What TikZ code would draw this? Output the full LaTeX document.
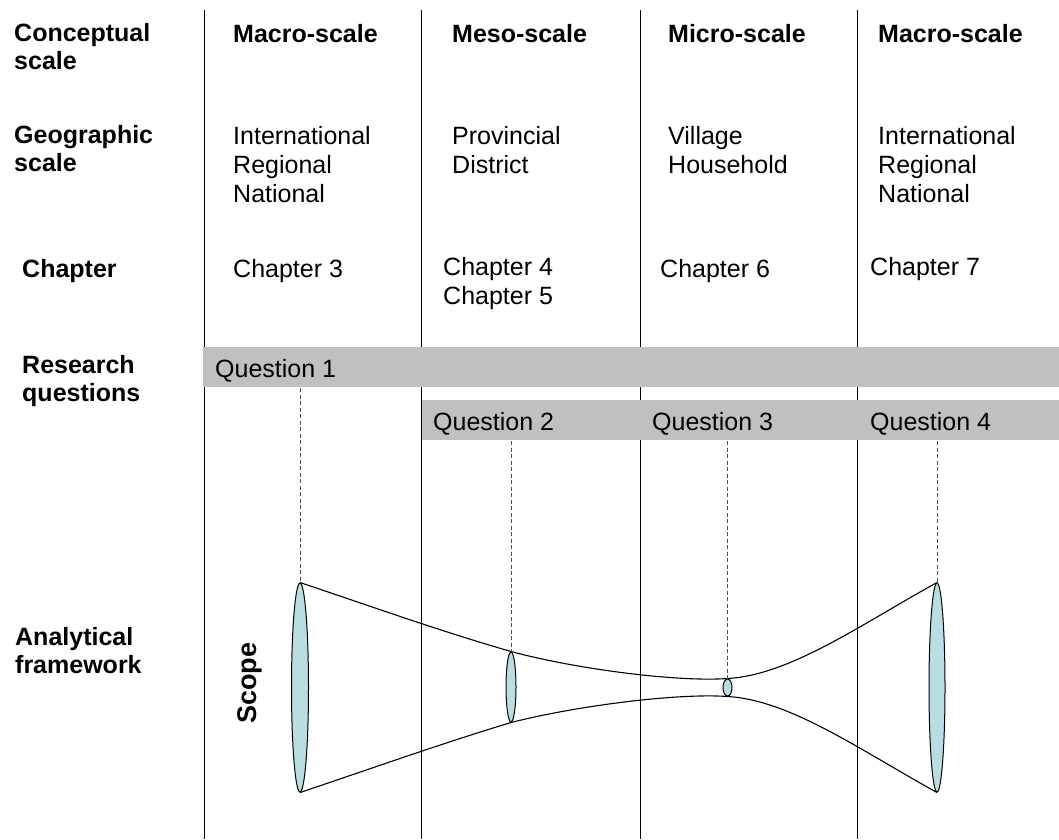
\documentclass[tikz,border=0pt]{standalone}
\usepackage{fontspec}
\setmainfont{Liberation Sans}
\usetikzlibrary{shapes.geometric}
\definecolor{bargray}{RGB}{192,192,192}
\definecolor{lensfill}{RGB}{184,222,226}
\begin{document}
\begin{tikzpicture}[x=1pt,y=-1pt,
  lbl/.style={font=\fontsize{25}{28}\selectfont\bfseries, anchor=base west, inner sep=0pt, align=left},
  txt/.style={font=\fontsize{25}{29}\selectfont, anchor=base west, inner sep=0pt, align=left},
  divider/.style={line width=1pt, black},
  bar/.style={fill=bargray},
  lensshape/.style={ellipse, draw=black, line width=1pt, fill=lensfill, inner sep=0pt},
  guide/.style={line width=1pt, black!70, dash pattern=on 4pt off 2.5pt},
  outline/.style={line width=1.1pt, black}]
\useasboundingbox (0,0) rectangle (1059,839);

% column dividers
\coordinate (topa) at (204,10); \coordinate (bota) at (204,839);
\coordinate (topb) at (421,10); \coordinate (botb) at (421,839);
\coordinate (topc) at (640,10); \coordinate (botc) at (640,839);
\coordinate (topd) at (857,10); \coordinate (botd) at (857,839);
\draw[divider] (topa) -- (bota);
\draw[divider] (topb) -- (botb);
\draw[divider] (topc) -- (botc);
\draw[divider] (topd) -- (botd);

% research question bars
\fill[bar] (203,347) rectangle (1059,387);
\fill[bar] (422,400) rectangle (1059,440);

% row labels (multi-line nodes sit on the baseline of their last line)
\node[lbl] (conc) at (14,69) {Conceptual\\scale};
\node[lbl] (geo) at (14,171) {Geographic\\scale};
\node[lbl] (chap) at (22,277) {Chapter};
\node[lbl] (rq) at (22,401) {Research\\questions};
\node[lbl] (af) at (15,673) {Analytical\\framework};

% conceptual scale
\node[lbl] (h1) at (233,42) {Macro-scale};
\node[lbl] (h2) at (452,42) {Meso-scale};
\node[lbl] (h3) at (668,42) {Micro-scale};
\node[lbl] (h4) at (878,42) {Macro-scale};

% geographic scale
\node[txt] (g1) at (233,202) {International\\Regional\\National};
\node[txt] (g2) at (452,173) {Provincial\\District};
\node[txt] (g3) at (668,173) {Village\\Household};
\node[txt] (g4) at (878,202) {International\\Regional\\National};

% chapters
\node[txt] (c1) at (233,277) {Chapter 3};
\node[txt] (c2) at (443,304) {Chapter 4\\Chapter 5};
\node[txt] (c3) at (660,277) {Chapter 6};
\node[txt] (c4) at (870,275) {Chapter 7};

% questions
\node[txt] (q1) at (215,377) {Question 1};
\node[txt] (q2) at (433,430) {Question 2};
\node[txt] (q3) at (652,430) {Question 3};
\node[txt] (q4) at (870,430) {Question 4};

% scope lenses
\node[lensshape, minimum width=17pt, minimum height=209pt] (e1) at (300,687.5) {};
\node[lensshape, minimum width=10pt, minimum height=70pt] (e2) at (511,687) {};
\node[lensshape, minimum width=9pt, minimum height=17pt] (e3) at (727.5,687.5) {};
\node[lensshape, minimum width=16pt, minimum height=209pt] (e4) at (937,687.5) {};

% envelope of the scope
\draw[outline] (e1.north) .. controls (370,606) and (440,631) .. (e2.north)
  .. controls (580,670) and (680,682) .. (e3.north)
  .. controls (790,675) and (860,625) .. (e4.north);
\draw[outline] (e1.south) .. controls (370,769) and (440,744) .. (e2.south)
  .. controls (580,705) and (680,693) .. (e3.south)
  .. controls (790,700) and (860,750) .. (e4.south);

% guides from the questions down to the lenses
\coordinate (d1) at (300,388);
\coordinate (d2) at (511,441);
\coordinate (d3) at (727.5,441);
\coordinate (d4) at (937,441);
\draw[guide] (d1) -- (e1.north);
\draw[guide] (d2) -- (e2.north);
\draw[guide] (d3) -- (e3.north);
\draw[guide] (d4) -- (e4.north);

\node[font=\fontsize{27}{30}\selectfont\bfseries, rotate=90, inner sep=0pt] (scope) at (250,683) {Scope};
\end{tikzpicture}
\end{document}
